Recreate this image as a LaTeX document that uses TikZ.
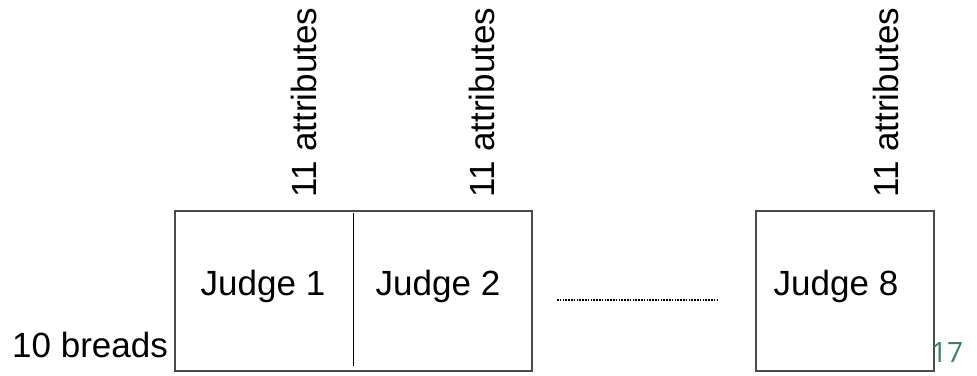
\documentclass[tikz,border=0pt]{standalone}
\usepackage{fontspec}
\setmainfont{Liberation Sans}
\newfontfamily\numfont{Open Sans}
\definecolor{boxgray}{HTML}{4A4A4A}
\definecolor{pagegreen}{HTML}{3B7F69}
\tikzset{
  frame/.style={draw=boxgray, line width=1.2pt, inner sep=0pt, outer sep=0pt},
  lbl/.style={font=\fontsize{35}{37}\selectfont, inner sep=0pt, text=black},
  vlbl/.style={lbl, rotate=90, anchor=base west},
}
\begin{document}
\begin{tikzpicture}[x=1pt,y=-1pt]
\useasboundingbox (0,0) rectangle (977,375);
% boxes
\node[frame, minimum width=357pt, minimum height=160pt] (box12) at (353.5,291) {};
\node[frame, minimum width=178pt, minimum height=160pt] (box8) at (845,291) {};
\coordinate (divtop) at (353,213);
\coordinate (divbot) at (353,366);
\draw[black, line width=1pt] (divtop) -- (divbot);
% labels
\node[lbl, anchor=base] (j1) at (263,295) {Judge 1};
\node[lbl, anchor=base] (j2) at (438,295) {Judge 2};
\node[lbl, anchor=base] (j8) at (836,295) {Judge 8};
\node[lbl, anchor=base west] (breads) at (12,357) {10 breads};
\node[vlbl] (a1) at (316,198) {11 attributes};
\node[vlbl] (a2) at (494,198) {11 attributes};
\node[vlbl] (a8) at (898,198) {11 attributes};
% dotted line
\coordinate (dl) at (557,300);
\coordinate (dr) at (718,300);
\draw[black, line width=1.4pt, dash pattern=on 1.6pt off 1.2pt] (dl) -- (dr);
% page number
\node[anchor=base west, inner sep=0pt, text=pagegreen, font=\numfont\fontsize{28}{30}\selectfont] (pg) at (931,362) {17};
\end{tikzpicture}
\end{document}
